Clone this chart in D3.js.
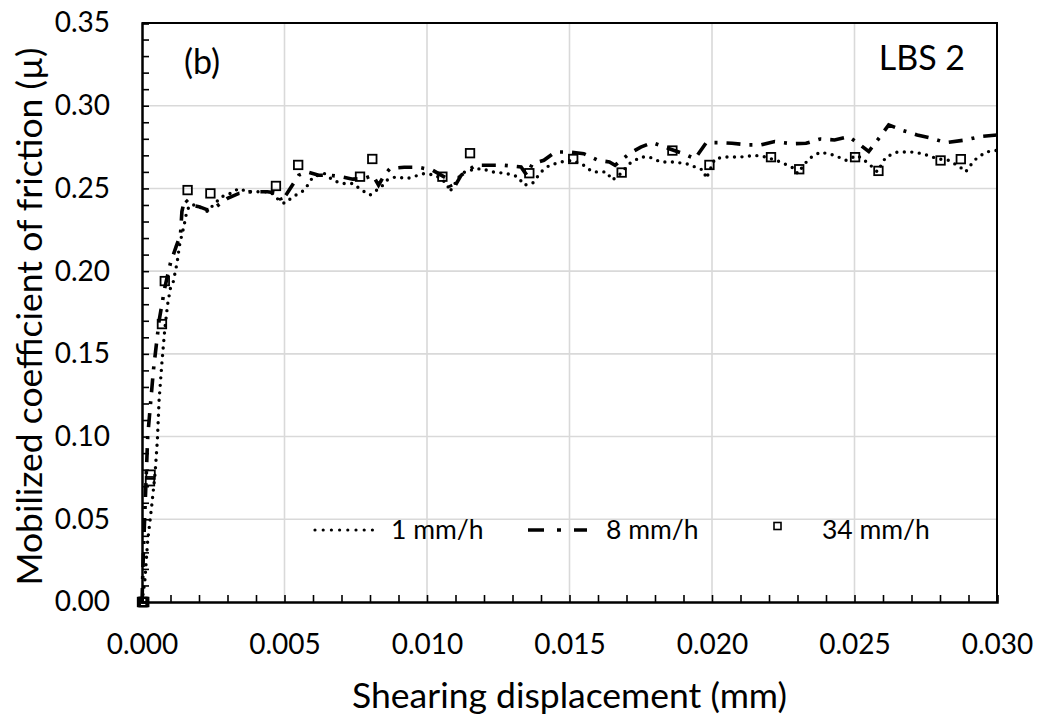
<!DOCTYPE html>
<html>
<head>
<meta charset="utf-8">
<script src="https://cdn.jsdelivr.net/npm/d3@7"></script>
<style>
  html, body { margin: 0; padding: 0; background: #fff; }
  svg text { font-family: Lato, "Open Sans", sans-serif; fill: #000; }
</style>
</head>
<body>
<svg id="chart" width="1040" height="717"></svg>
<script>
// Shearing displacement (mm) vs mobilized coefficient of friction, three shearing rates
const xTicks = [0.000, 0.005, 0.010, 0.015, 0.020, 0.025, 0.030];
const yTicks = [0.00, 0.05, 0.10, 0.15, 0.20, 0.25, 0.30, 0.35];
const seriesNames = ["1 mm/h", "8 mm/h", "34 mm/h"];

// 1 mm/h
const rate1x = [0,0.0001,0.0002,0.00034,0.00046,0.00054,0.0006,0.0007,0.0008,0.0009,0.001,0.00109,0.00123,0.00133,0.00147,0.00157,0.00168,0.0019,0.0021,0.0023,0.0025,0.0028,0.0031,0.0034,0.0037,0.0041,0.0045,0.0048,0.005,0.0053,0.0057,0.006,0.0064,0.0067,0.007,0.0074,0.0077,0.008,0.0084,0.0086,0.0089,0.0093,0.0099,0.0103,0.0107,0.0108,0.0112,0.0115,0.0119,0.0123,0.0128,0.0132,0.0134,0.0137,0.014,0.0143,0.0147,0.0151,0.0155,0.0158,0.0163,0.0165,0.0168,0.0171,0.0175,0.0178,0.0182,0.0186,0.0191,0.0197,0.0198,0.0201,0.0205,0.021,0.0215,0.0219,0.0224,0.0229,0.023,0.0234,0.0238,0.0243,0.0247,0.0251,0.0255,0.0258,0.0261,0.0265,0.027,0.0274,0.0279,0.0283,0.0287,0.0289,0.0292,0.0296,0.03];
const rate1y = [0,0.013,0.037,0.058,0.078,0.098,0.122,0.145,0.165,0.18,0.19,0.193,0.205,0.217,0.227,0.236,0.240,0.240,0.238,0.236,0.240,0.245,0.247,0.250,0.248,0.248,0.248,0.243,0.241,0.245,0.249,0.257,0.259,0.255,0.253,0.253,0.249,0.246,0.251,0.255,0.257,0.256,0.259,0.258,0.253,0.248,0.259,0.261,0.262,0.260,0.259,0.257,0.252,0.253,0.260,0.264,0.266,0.267,0.264,0.260,0.260,0.255,0.259,0.265,0.269,0.269,0.266,0.266,0.265,0.261,0.256,0.268,0.269,0.269,0.270,0.269,0.266,0.262,0.259,0.268,0.272,0.270,0.267,0.270,0.265,0.260,0.269,0.272,0.272,0.271,0.268,0.267,0.263,0.260,0.267,0.272,0.273];

// 8 mm/h
const rate8x = [0,0.00005,0.0001,0.0002,0.0004,0.0006,0.0008,0.001,0.0012,0.00135,0.0014,0.0015,0.0017,0.002,0.0023,0.0026,0.003,0.0034,0.0038,0.0044,0.0048,0.0049,0.0052,0.0055,0.0058,0.0062,0.0066,0.007,0.0074,0.0078,0.0081,0.0083,0.0085,0.0087,0.0092,0.0097,0.0102,0.0107,0.0109,0.0112,0.0117,0.0122,0.0127,0.0133,0.0135,0.0137,0.0141,0.0145,0.015,0.0155,0.016,0.0164,0.0166,0.0171,0.0175,0.0179,0.0185,0.019,0.0194,0.0198,0.0202,0.0207,0.0213,0.0217,0.0222,0.0228,0.0233,0.0238,0.0243,0.0248,0.0252,0.0255,0.0259,0.0262,0.0267,0.0272,0.0277,0.0282,0.0289,0.0294,0.03];
const rate8y = [0,0.03,0.054,0.1,0.14,0.17,0.19,0.205,0.215,0.222,0.236,0.2435,0.240,0.239,0.237,0.239,0.244,0.247,0.248,0.248,0.247,0.242,0.250,0.258,0.260,0.258,0.258,0.257,0.2556,0.256,0.258,0.252,0.258,0.262,0.2628,0.2628,0.261,0.256,0.249,0.258,0.264,0.264,0.264,0.263,0.258,0.265,0.267,0.272,0.272,0.271,0.267,0.266,0.264,0.271,0.275,0.2777,0.274,0.271,0.268,0.2777,0.2777,0.2773,0.2763,0.2763,0.2783,0.277,0.2773,0.2799,0.2793,0.2813,0.2763,0.2723,0.2813,0.2884,0.285,0.2823,0.2803,0.2777,0.2793,0.2813,0.2823];

// 34 mm/h
const rate34x = [0,0.00002,0.00004,0.00006,0.00008,0.00028,0.0003,0.0007,0.0008,0.0016,0.0024,0.0047,0.00548,0.00765,0.00808,0.01054,0.01151,0.01359,0.01513,0.01683,0.01861,0.01991,0.02207,0.02306,0.02502,0.02584,0.02802,0.02873];
const rate34y = [0,0,0,0,0,0.073,0.077,0.168,0.194,0.249,0.247,0.2515,0.2642,0.2571,0.2678,0.2571,0.2713,0.2592,0.2678,0.2596,0.2729,0.2642,0.2689,0.2616,0.2689,0.2606,0.2669,0.2677];

const svg = d3.select("#chart");
const margin = { left: 142, right: 43, top: 23, bottom: 115 };
const W = 1040, H = 717;
const x = d3.scaleLinear().domain([0, 0.03]).range([margin.left, W - margin.right]);
const y = d3.scaleLinear().domain([0, 0.35]).range([H - margin.bottom, margin.top]);
const x0 = x(0), x1 = x(0.03), y0 = y(0), y1 = y(0.35);

// gridlines
const grid = svg.append("g").attr("stroke", "#d9d9d9").attr("stroke-width", 1.6);
xTicks.slice(1, -1).forEach(t => grid.append("line").attr("x1", x(t)).attr("x2", x(t)).attr("y1", y0).attr("y2", y1));
yTicks.slice(1, -1).forEach(t => grid.append("line").attr("x1", x0).attr("x2", x1).attr("y1", y(t)).attr("y2", y(t)));

// frame (top and right)
svg.append("path")
  .attr("d", `M${x0},${y1}H${x1}V${y0}`)
  .attr("fill", "none").attr("stroke", "#000").attr("stroke-width", 2);

svg.append("defs").append("clipPath").attr("id", "plotClip")
  .append("rect").attr("x", x0 - 8).attr("y", y1).attr("width", x1 - x0 + 8).attr("height", y0 - y1 + 8);

// axes with inside ticks
const xAxis = d3.axisBottom(x).tickValues(d3.range(0, 0.03001, 0.001)).tickSize(-7).tickFormat("");
const gx = svg.append("g").attr("transform", `translate(0,${y0})`).call(xAxis);
const yAxis = d3.axisLeft(y).tickValues(d3.range(0, 0.3501, 0.01)).tickSize(-7).tickFormat("");
const gy = svg.append("g").attr("transform", `translate(${x0},0)`).call(yAxis);
[gx, gy].forEach(g => {
  g.select(".domain").attr("stroke", "#000").attr("stroke-width", 2.5);
  g.selectAll(".tick line").attr("stroke", "#000").attr("stroke-width", 1.6);
});

// tick labels
const xLab = d3.axisBottom(x).tickValues(xTicks).tickSize(0).tickPadding(32).tickFormat(d3.format(".3f"));
const gxl = svg.append("g").attr("transform", `translate(0,${y0})`).call(xLab);
const yLab = d3.axisLeft(y).tickValues(yTicks).tickSize(0).tickPadding(32).tickFormat(d3.format(".2f"));
const gyl = svg.append("g").attr("transform", `translate(${x0},0)`).call(yLab);
[gxl, gyl].forEach(g => {
  g.select(".domain").remove();
  g.selectAll("text").attr("font-size", 28).attr("font-family", "Lato, sans-serif").attr("fill", "#000");
});
gxl.selectAll("text").attr("dy", "0").attr("y", 52);

// series lines
const pts = (xs, ys) => xs.map((v, i) => [v, ys[i]]);
const line = d3.line().x(d => x(d[0])).y(d => y(d[1]));
const plot = svg.append("g").attr("clip-path", "url(#plotClip)");

plot.append("path").datum(pts(rate1x, rate1y)).attr("d", line)
  .attr("fill", "none").attr("stroke", "#000").attr("stroke-width", 3.4)
  .attr("stroke-linecap", "round").attr("stroke-dasharray", "0 7.5");

plot.append("path").datum(pts(rate8x, rate8y)).attr("d", line)
  .attr("fill", "none").attr("stroke", "#000").attr("stroke-width", 3.6)
  .attr("stroke-dasharray", "14 9 3 9");

const sq = 8.5;
plot.selectAll("rect.m34").data(pts(rate34x, rate34y)).enter().append("rect")
  .attr("class", "m34")
  .attr("x", d => x(d[0]) - sq / 2).attr("y", d => y(d[1]) - sq / 2)
  .attr("width", sq).attr("height", sq)
  .attr("fill", "none").attr("stroke", "#000").attr("stroke-width", 1.8);

// legend
const legY = 530;
const leg = svg.append("g");
leg.append("line").attr("x1", 315).attr("x2", 373).attr("y1", legY).attr("y2", legY)
  .attr("stroke", "#000").attr("stroke-width", 3.2).attr("stroke-linecap", "round").attr("stroke-dasharray", "0 8.2");
leg.append("text").attr("x", 391).attr("y", legY).attr("dy", "0.35em").attr("font-size", 26.5).text(seriesNames[0]);
leg.append("line").attr("x1", 528).attr("x2", 587).attr("y1", legY).attr("y2", legY)
  .attr("stroke", "#000").attr("stroke-width", 3.6).attr("stroke-dasharray", "16 13 4 13");
leg.append("text").attr("x", 606).attr("y", legY).attr("dy", "0.35em").attr("font-size", 26.5).text(seriesNames[1]);
leg.append("rect").attr("x", 777.5 - 3.5).attr("y", legY - 7.5).attr("width", 7).attr("height", 7)
  .attr("fill", "none").attr("stroke", "#000").attr("stroke-width", 1.6);
leg.append("text").attr("x", 822).attr("y", legY).attr("dy", "0.35em").attr("font-size", 26.5).text(seriesNames[2]);

// annotations
svg.append("text").attr("x", 202).attr("y", 74).attr("text-anchor", "middle").attr("font-size", 34).text("(b)");
svg.append("text").attr("x", 965).attr("y", 70).attr("text-anchor", "end").attr("font-size", 34).text("LBS 2");

// axis titles
svg.append("text").attr("x", (x0 + x1) / 2).attr("y", 708).attr("text-anchor", "middle")
  .attr("font-size", 35.5).text("Shearing displacement (mm)");
svg.append("text").attr("transform", `translate(42,${(y0 + y1) / 2 + 4}) rotate(-90)`)
  .attr("text-anchor", "middle").attr("font-size", 35.5).text("Mobilized coefficient of friction (µ)");
</script>
</body>
</html>
